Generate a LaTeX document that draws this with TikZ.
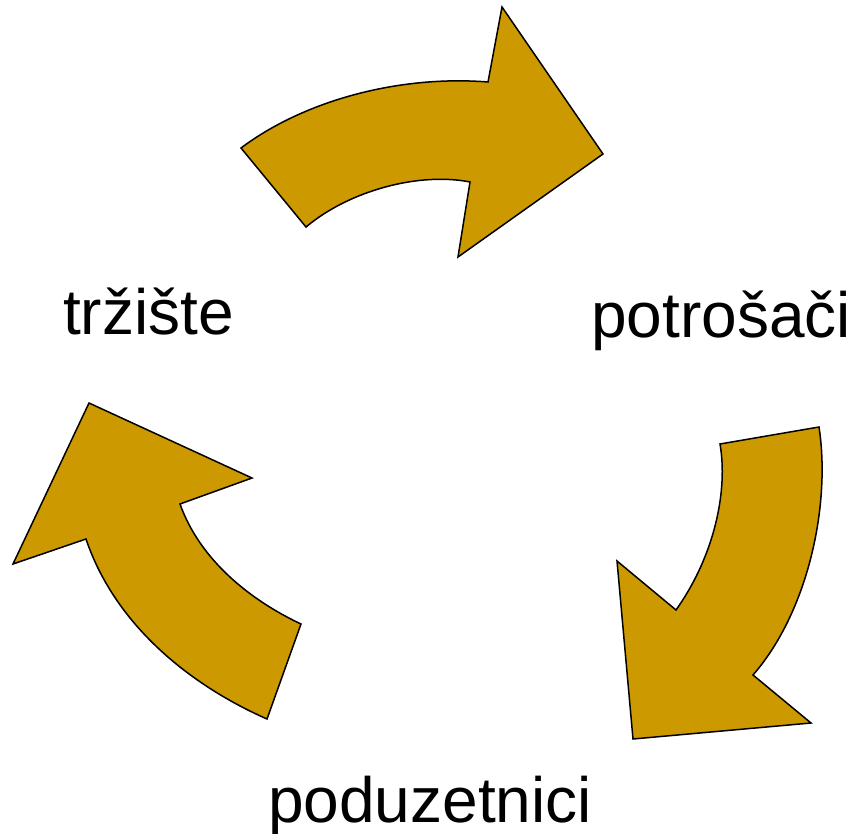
\documentclass[tikz,border=0pt]{standalone}
\usepackage{fontspec}
\setmainfont{Liberation Sans}
\definecolor{ochre}{RGB}{204,153,0}

\begin{document}
\begin{tikzpicture}[x=1pt,y=-1pt,
  cyclearrow/.style={fill=ochre,draw=black,line width=1.5pt,line join=miter},
  label/.style={anchor=base west,inner sep=0pt,font=\fontsize{64}{76}\selectfont}]
\useasboundingbox (0,0) rectangle (859,834);

\draw [cyclearrow] (241,148) .. controls (305,100) and (400,75) .. (488,82)
  -- (502,7) -- (603,154) -- (458,257) -- (470,182)
  .. controls (420,172) and (350,190) .. (306,227) -- cycle;

\draw [cyclearrow] (819,427) .. controls (831,505) and (808,612) .. (753,675)
  -- (811,723) -- (633,739) -- (617,561) -- (676,610)
  .. controls (715,555) and (728,490) .. (720,444) -- cycle;

\draw [cyclearrow] (267,719) .. controls (190,685) and (115,625) .. (86,539)
  -- (13,564) -- (89,403) -- (252,478) -- (180,504)
  .. controls (200,560) and (250,600) .. (301,624) -- cycle;

\node [label] at (63,334) (trziste) {tržište};
\node [label] at (591,337) (potrosaci) {potrošači};
\node [label] at (268,822) (poduzetnici) {poduzetnici};
\end{tikzpicture}
\end{document}
